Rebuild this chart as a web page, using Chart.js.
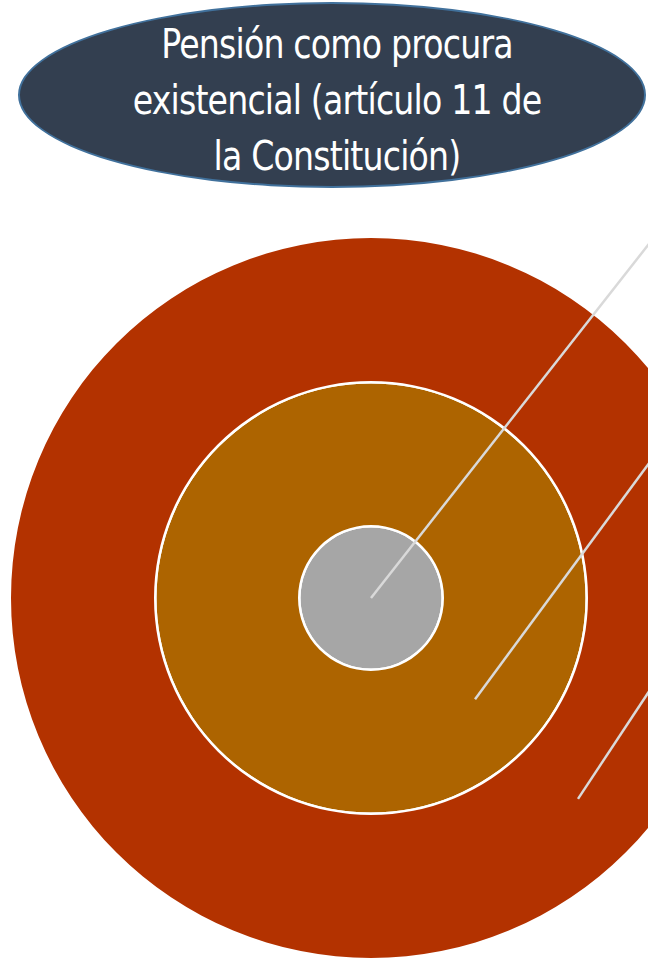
<!DOCTYPE html>
<html lang="es">
<head>
<meta charset="utf-8">
<title>Pensión como procura existencial</title>
<script src="https://cdn.jsdelivr.net/npm/chart.js@4/dist/chart.umd.min.js"></script>
<style>
  html, body { margin: 0; padding: 0; width: 648px; height: 962px; overflow: hidden; background: #fff; }
  .titulo {
    position: absolute; left: 18px; top: 2px; width: 628px; height: 186px;
    border-radius: 50%; background: #333f50; border: 2px solid #41719c; box-sizing: border-box;
  }
  .titulo span {
    position: absolute; left: 0; right: 0; top: 12px; text-align: center;
    margin-left: 10px; transform: scaleX(0.83);
    color: #fff; font-family: "DejaVu Sans", sans-serif;
    font-size: 40px; line-height: 56px; letter-spacing: -1px;
  }
  .diana { position: absolute; left: 11px; top: 238px; width: 720px; height: 720px; }
  .diana canvas { position: absolute; left: 0; top: 0; }
</style>
</head>
<body>
<div class="titulo"><span>Pensión como procura<br>existencial (artículo 11 de<br>la Constitución)</span></div>
<div class="diana">
  <canvas id="anillos" width="720" height="720"></canvas>
  <canvas id="guias" width="720" height="720"></canvas>
</div>
<script>
"use strict";

// Anillos de afuera hacia adentro; el peso es el grosor relativo de cada anillo
// (los anillos blancos finos hacen de contorno, sin la raya radial del borde).
const anillos = ["exterior", "contorno medio", "medio", "contorno centro", "centro"];
const pesos = [143, 2.5, 141.5, 2.5, 70.5];
const colores = ["#b33200", "#ffffff", "#ad6400", "#ffffff", "#a6a6a6"];

// Líneas guía, en unidades del radio exterior (centro = 0,0).
const guiaX = [[0, 0.78], [0.289, 0.78], [0.575, 0.78]];
const guiaY = [[0, 0.994], [-0.281, 0.385], [-0.558, -0.248]];

new Chart(document.getElementById("anillos"), {
  type: "doughnut",
  data: {
    labels: ["anillo"],
    datasets: anillos.map((nombre, i) => ({
      label: nombre,
      data: [1],
      weight: pesos[i],
      backgroundColor: colores[i],
      borderWidth: 0,
      hoverOffset: 0,
      offset: 0,
    })),
  },
  options: {
    responsive: false,
    animation: false,
    events: [],
    cutout: 0,
    layout: { padding: 0 },
    plugins: { legend: { display: false }, tooltip: { enabled: false } },
  },
});

new Chart(document.getElementById("guias"), {
  type: "scatter",
  data: {
    datasets: guiaX.map((xs, i) => ({
      data: xs.map((x, j) => ({ x, y: guiaY[i][j] })),
      showLine: true,
      borderColor: "#d9d9d9",
      borderWidth: 2.5,
      pointRadius: 0,
    })),
  },
  options: {
    responsive: false,
    animation: false,
    events: [],
    layout: { padding: 0 },
    plugins: { legend: { display: false }, tooltip: { enabled: false } },
    scales: {
      x: { type: "linear", min: -1, max: 1, display: false },
      y: { type: "linear", min: -1, max: 1, display: false },
    },
  },
});
</script>
</body>
</html>
